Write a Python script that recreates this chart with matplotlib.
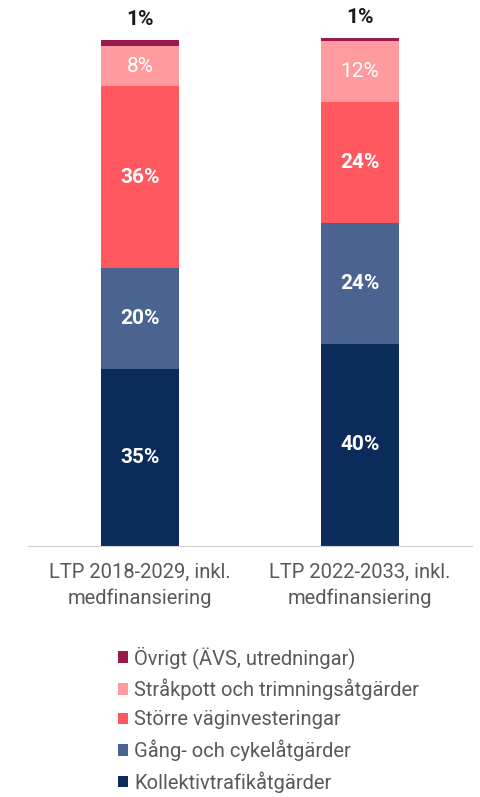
import matplotlib
matplotlib.use("Agg")
import matplotlib.pyplot as plt
import numpy as np

plt.rcParams['font.family'] = ['Roboto', 'DejaVu Sans']

categories = ["LTP 2018-2029, inkl.\nmedfinansiering", "LTP 2022-2033, inkl.\nmedfinansiering"]
series_names = ["Kollektivtrafikåtgärder", "Gång- och cykelåtgärder", "Större väginvesteringar",
                "Stråkpott och trimningsåtgärder", "Övrigt (ÄVS, utredningar)"]
kollektiv = [35, 40]
gang = [20, 24]
storre = [36, 24]
strakpott = [8, 12]
ovrigt = [1.2, 0.6]
ovrigt_labels = ["1%", "1%"]
colors = ["#0b2b5b", "#4b6391", "#ff585e", "#ff9b9e", "#9a1a4e"]
weights = ["bold", "bold", "bold", "normal"]

series = [kollektiv, gang, storre, strakpott, ovrigt]

fig = plt.figure(figsize=(4.81, 7.97), dpi=100)
ax = fig.add_axes([28/481, 1 - 546/797, 444/481, 546/797])
x = np.arange(len(categories))
width = 0.355
bottom = np.zeros(len(categories))
handles = []
for i, (vals, name, c) in enumerate(zip(series, series_names, colors)):
    b = ax.bar(x, vals, width, bottom=bottom, color=c, label=name, edgecolor='none')
    handles.append(b)
    if i < 4:
        for xi, v, bt in zip(x, vals, bottom):
            ax.text(xi, bt + v / 2, f"{v:g}%", ha='center', va='center', color='white',
                    fontsize=15, fontweight=weights[i])
    else:
        for xi, v, bt, lab in zip(x, vals, bottom, ovrigt_labels):
            ax.text(xi, bt + v + 4.0, lab, ha='center', va='center', color='#1a1a1a',
                    fontsize=15, fontweight='bold')
    bottom = bottom + np.array(vals)

ax.set_xlim(-0.509, 1.509)
ax.set_ylim(0, 108.1)
for s in ['top', 'right', 'left']:
    ax.spines[s].set_visible(False)
ax.spines['bottom'].set_color('#d0d0d0')
ax.set_yticks([])
ax.set_xticks(x)
ax.set_xticklabels(categories, fontsize=14.5, color='#595959', linespacing=1.45)
ax.tick_params(axis='x', length=0, pad=12)

leg = fig.legend(handles[::-1], series_names[::-1], loc='upper left',
                 bbox_to_anchor=(108/481, 1 - 636/797), frameon=False,
                 fontsize=14.5, handlelength=0.5, handleheight=0.5, handletextpad=0.3,
                 labelspacing=0.5, borderpad=0)
for t in leg.get_texts():
    t.set_color('#595959')

fig.savefig("out.png", dpi=100)
